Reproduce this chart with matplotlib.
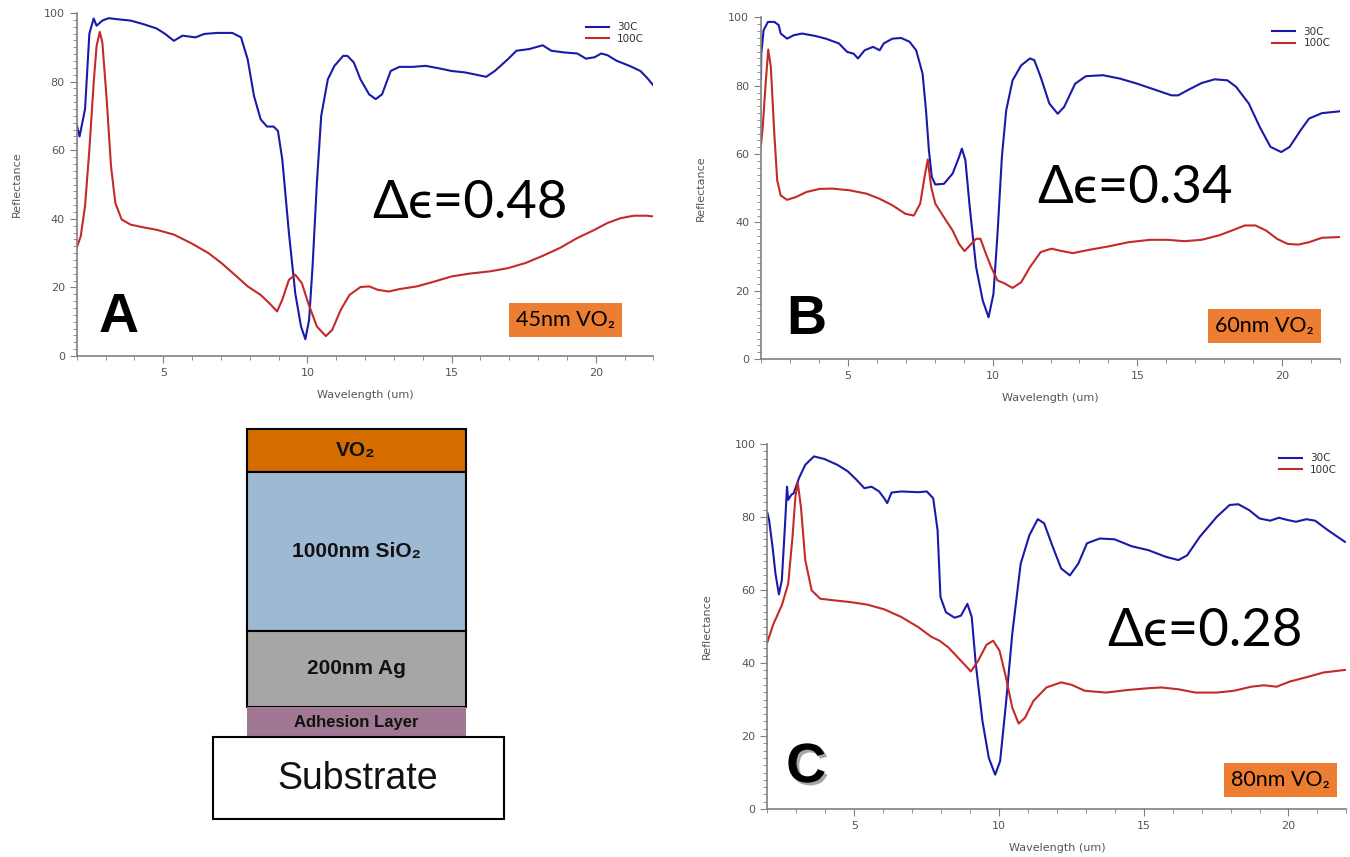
import matplotlib
matplotlib.use('Agg')
import matplotlib.pyplot as plt
import matplotlib.patheffects as pe
from matplotlib.patches import Rectangle
from matplotlib.ticker import MultipleLocator

# --- spectra (wavelength in um, reflectance in %) ---
# A: 45nm VO2
a_x_30 = [2.0, 2.1, 2.29, 2.44, 2.59, 2.69, 2.89, 3.11, 3.4, 3.87, 4.3, 4.77, 5.07, 5.37, 5.67,
          6.12, 6.42, 6.87, 7.4, 7.7, 7.93, 8.15, 8.38, 8.6, 8.83, 8.98, 9.13, 9.36, 9.58, 9.78,
          9.93, 10.06, 10.18, 10.33, 10.48, 10.71, 10.94, 11.24, 11.39, 11.61, 11.84, 12.14, 12.37,
          12.59, 12.89, 13.19, 13.64, 14.1, 14.55, 15.0, 15.45, 15.75, 16.2, 16.5, 16.95, 17.25,
          17.7, 18.16, 18.46, 18.91, 19.36, 19.66, 19.96, 20.19, 20.41, 20.72, 21.17, 21.55, 21.77, 22.0]
a_r_30 = [67.5, 64, 72, 94, 98.4, 96.3, 97.8, 98.5, 98.2, 97.8, 96.8, 95.5, 93.9, 91.9, 93.4,
          92.9, 93.9, 94.2, 94.2, 92.9, 86.5, 75.8, 69, 66.9, 66.9, 65.6, 57.3, 35.9, 18.3, 8.6,
          4.9, 10.5, 26.1, 50.5, 70, 80.7, 84.6, 87.5, 87.5, 85.6, 80.7, 76.3, 74.9,
          76.3, 83.1, 84.3, 84.3, 84.6, 83.9, 83.1, 82.7, 82.2, 81.4, 83.1, 86.5, 89,
          89.5, 90.6, 89, 88.5, 88.2, 86.7, 87.1, 88.2, 87.7, 86.1, 84.6, 83.1, 81.2, 78.9]
a_x_100 = [2.0, 2.14, 2.29, 2.44, 2.59, 2.69, 2.8, 2.89, 3.04, 3.19, 3.34, 3.56, 3.87, 4.32, 4.77,
           5.37, 5.97, 6.57, 7.02, 7.48, 7.93, 8.38, 8.68, 8.95, 9.13, 9.36, 9.58, 9.81, 10.03,
           10.33, 10.64, 10.86, 11.16, 11.46, 11.84, 12.14, 12.44, 12.82, 13.19, 13.8, 14.4, 15.0,
           15.6, 16.35, 16.95, 17.56, 18.16, 18.76, 19.36, 19.96, 20.41, 20.87, 21.32, 21.77, 22.0]
a_r_100 = [31.5, 34.9, 43.7, 60.2, 79.7, 90.4, 94.5, 91.4, 74.9, 55.4, 44.6, 39.8, 38.3, 37.5, 36.8,
           35.4, 32.9, 30, 27.1, 23.7, 20.3, 17.8, 15.4, 13, 16.4, 22.2, 23.7, 21.2, 15.4,
           8.6, 5.8, 7.6, 13.5, 17.8, 20.1, 20.3, 19.3, 18.8, 19.5, 20.3, 21.7, 23.2,
           24, 24.7, 25.6, 27.1, 29.2, 31.5, 34.4, 36.8, 38.8, 40.2, 40.9, 40.9, 40.7]

# B: 60nm VO2
b_x_30 = [2.0, 2.01, 2.09, 2.24, 2.46, 2.61, 2.68, 2.9, 3.13, 3.42, 3.87, 4.24, 4.69, 4.98, 5.2,
          5.35, 5.58, 5.87, 6.1, 6.24, 6.54, 6.84, 7.13, 7.36, 7.58, 7.7, 7.8, 7.9, 8.02, 8.32,
          8.62, 8.84, 8.94, 9.06, 9.21, 9.43, 9.66, 9.86, 10.03, 10.17, 10.32, 10.47, 10.69, 10.99,
          11.29, 11.44, 11.66, 11.96, 12.25, 12.47, 12.85, 13.22, 13.81, 14.4, 15.0, 15.59, 16.18,
          16.41, 16.78, 17.22, 17.67, 18.11, 18.41, 18.85, 19.23, 19.6, 19.97, 20.26, 20.64, 20.93,
          21.38, 21.97]
b_r_30 = [82.1, 89.4, 96.3, 98.7, 98.7, 97.8, 95.3, 93.8, 94.8, 95.3, 94.6, 93.8, 92.4, 89.9, 89.4,
          88, 90.4, 91.4, 90.4, 92.4, 93.8, 94, 92.9, 90.4, 83.6, 72.8, 61.1, 53.3, 51.1, 51.3,
          54.3, 59.1, 61.6, 58.2, 44.5, 26.9, 17.1, 12.2, 19.1, 36.7, 59.1, 72.8, 81.6, 86,
          88, 87.5, 82.6, 74.8, 71.8, 73.8, 80.6, 82.8, 83.1, 82.1, 80.6, 78.9, 77.2,
          77.2, 78.9, 80.8, 81.9, 81.6, 79.7, 74.8, 67.9, 62.1, 60.6, 62.1, 67, 70.4,
          72, 72.5]
b_x_100 = [2.0, 2.06, 2.16, 2.25, 2.34, 2.46, 2.56, 2.68, 2.9, 3.2, 3.57, 4.02, 4.46, 5.06, 5.65,
           6.1, 6.54, 6.99, 7.28, 7.5, 7.65, 7.76, 7.88, 8.02, 8.32, 8.62, 8.84, 9.03, 9.21, 9.43,
           9.58, 9.77, 9.95, 10.17, 10.4, 10.69, 10.99, 11.29, 11.66, 12.03, 12.4, 12.77, 13.36,
           13.96, 14.7, 15.44, 16.03, 16.63, 17.22, 17.82, 18.26, 18.71, 19.08, 19.45, 19.82,
           20.19, 20.56, 20.93, 21.38, 21.97]
b_r_100 = [62.6, 67.9, 80.6, 90.6, 85.5, 66, 52.3, 47.9, 46.6, 47.4, 48.9, 49.8, 49.9, 49.4, 48.4,
           46.9, 45, 42.5, 42, 45.5, 53.3, 58.4, 50.3, 45.5, 41.5, 37.6, 33.7, 31.6, 33.2, 35.2,
           35.2, 30.8, 26.9, 23, 22.2, 20.8, 22.5, 26.9, 31.3, 32.3, 31.6, 31, 32,
           32.9, 34.2, 34.9, 34.9, 34.5, 34.9, 36.2, 37.6, 39.1, 39.1, 37.6, 35.2,
           33.7, 33.5, 34.2, 35.5, 35.7]

# C: 80nm VO2
c_x_30 = [2.0, 2.06, 2.18, 2.28, 2.4, 2.5, 2.6, 2.68, 2.72, 2.83, 2.91, 3.09, 3.31, 3.61, 3.97,
          4.42, 4.78, 5.08, 5.35, 5.6, 5.86, 6.04, 6.14, 6.29, 6.63, 7.22, 7.51, 7.73, 7.88, 7.98,
          8.17, 8.47, 8.69, 8.91, 9.06, 9.2, 9.43, 9.65, 9.87, 10.04, 10.24, 10.46, 10.75, 11.05,
          11.34, 11.56, 11.86, 12.15, 12.45, 12.74, 13.04, 13.48, 13.99, 14.58, 15.17, 15.76, 16.2,
          16.5, 16.94, 17.53, 17.97, 18.27, 18.64, 19.0, 19.37, 19.67, 19.96, 20.26, 20.62, 20.92,
          21.36, 21.95]
c_r_30 = [81.2, 79.2, 71.8, 64.5, 58.8, 62.7, 76.4, 88.3, 84.7, 86.1, 86.5, 90.6, 94.3, 96.6, 95.9,
          94.3, 92.5, 90.2, 87.9, 88.3, 87, 85.1, 83.8, 86.7, 87, 86.8, 87, 85.1, 76.4, 58.1,
          53.9, 52.4, 53, 56.2, 52.6, 39.7, 24.1, 14, 9.4, 13.1, 28.7, 48, 67.2, 75,
          79.4, 78.3, 71.8, 65.9, 64, 67.2, 72.8, 74.1, 73.9, 72, 70.9, 69.1, 68.2,
          69.5, 74.6, 80.1, 83.3, 83.5, 81.9, 79.6, 79, 79.8, 79.2, 78.7, 79.4, 79,
          76.4, 73.2]
c_x_100 = [2.0, 2.21, 2.5, 2.72, 2.87, 2.97, 3.05, 3.16, 3.31, 3.53, 3.83, 4.27, 4.86, 5.45, 6.04,
           6.63, 7.22, 7.66, 7.95, 8.25, 8.69, 9.03, 9.28, 9.57, 9.8, 10.02, 10.24, 10.46, 10.68,
           10.9, 11.19, 11.64, 12.15, 12.52, 12.96, 13.7, 14.44, 15.17, 15.61, 16.2, 16.79, 17.53,
           18.12, 18.71, 19.15, 19.59, 20.04, 20.62, 21.21, 21.95]
c_r_100 = [45.7, 50.7, 55.8, 61.7, 74.6, 85.6, 89.4, 82.8, 68.2, 59.9, 57.6, 57.2, 56.7, 56, 54.7,
           52.6, 49.8, 47.2, 46.1, 44.3, 40.6, 37.7, 40.6, 45, 46.1, 43.4, 36.1, 27.8, 23.4,
           25, 29.6, 33.3, 34.7, 34, 32.4, 31.9, 32.6, 33.1, 33.3, 32.8, 31.9, 31.9,
           32.4, 33.5, 33.9, 33.5, 34.9, 36.1, 37.4, 38.1]

series_names = ['30C', '100C']
deltas = ['Δϵ=0.48', 'Δϵ=0.34', 'Δϵ=0.28']
films = ['45nm VO₂', '60nm VO₂', '80nm VO₂']
letters = ['A', 'B', 'C']

layer_names = ['VO₂', '1000nm SiO₂', '200nm Ag', 'Adhesion Layer']
layer_colors = ['#D46C00', '#9DB9D3', '#A6A6A6', '#A07894']

BLUE = '#1A1AA8'
RED = '#C42A2A'
GREY = '#555555'

fig = plt.figure(figsize=(13.5, 8.57), dpi=100)

# schematic of the stack, drawn in figure pixels
sk = fig.add_axes([0, 0, 1, 1])
sk.set_xlim(0, 1350)
sk.set_ylim(857, 0)
sk.axis('off')
tops = [429, 472, 631, 707, 737]
sizes = [15, 15, 15, 12]
for i, name in enumerate(layer_names):
    ec = 'none' if i == 3 else 'black'
    sk.add_patch(Rectangle((247, tops[i]), 219, tops[i + 1] - tops[i],
                           fc=layer_colors[i], ec=ec, lw=1.5))
    sk.text(356, (tops[i] + tops[i + 1]) / 2, name, ha='center', va='center',
            fontsize=sizes[i], fontweight='bold', color='#111111',
            family=['Liberation Sans', 'DejaVu Sans'])
sk.add_patch(Rectangle((213, 737), 291, 82, fc='white', ec='black', lw=1.5))
sk.text(358, 779, 'Substrate', ha='center', va='center', fontsize=27,
        color='#111111', family=['Liberation Sans', 'DejaVu Sans'])


def spectrum(rect, x30, r30, x100, r100, k, dpos, lpos, fpos):
    ax = fig.add_axes(rect)
    ax.patch.set_alpha(0)
    ax.plot(x30, r30, color=BLUE, lw=1.5, label=series_names[0], solid_joinstyle='round')
    ax.plot(x100, r100, color=RED, lw=1.5, label=series_names[1], solid_joinstyle='round')
    ax.set_xlim(2, 22)
    ax.set_ylim(0, 100)
    ax.xaxis.set_major_locator(MultipleLocator(5))
    ax.xaxis.set_minor_locator(MultipleLocator(1))
    ax.yaxis.set_major_locator(MultipleLocator(20))
    ax.yaxis.set_minor_locator(MultipleLocator(2))
    for s in ['top', 'right']:
        ax.spines[s].set_visible(False)
    for s in ['left', 'bottom']:
        ax.spines[s].set_color('#808080')
        ax.spines[s].set_linewidth(1.2)
    ax.tick_params(which='both', direction='out', color='#808080', labelcolor=GREY,
                   labelsize=8)
    ax.tick_params(which='major', length=5)
    ax.tick_params(which='minor', length=3)
    ax.set_xlabel('Wavelength (um)', fontsize=8, color=GREY, labelpad=9)
    ax.set_ylabel('Reflectance', fontsize=8, color=GREY, labelpad=16)
    leg = ax.legend(loc='upper right', bbox_to_anchor=(1.0, 1.0), frameon=False,
                    fontsize=7.5, handlelength=2.2, labelspacing=0.15)
    for t in leg.get_texts():
        t.set_color('#333333')
    ax.text(dpos[0], dpos[1], deltas[k], transform=ax.transAxes, ha='center', va='center',
            fontsize=38, color='black', family=['Lato', 'Open Sans', 'DejaVu Sans'])
    letter = ax.text(lpos[0], lpos[1], letters[k], transform=ax.transAxes, ha='center',
                     va='center', fontsize=40, fontweight='bold', color='black',
                     family=['Liberation Sans', 'DejaVu Sans'])
    if k == 2:
        letter.set_path_effects([pe.withSimplePatchShadow(offset=(2, -2), alpha=0.35)])
    ax.text(fpos[0], fpos[1], films[k], transform=ax.transAxes, ha='center', va='center',
            fontsize=15.5, color='black', family=['Lato', 'Open Sans', 'DejaVu Sans'],
            bbox=dict(boxstyle='square,pad=0.33', fc='#ED7D31', ec='none'))
    return ax


spectrum([0.0568, 0.5846, 0.4272, 0.4002], a_x_30, a_r_30, a_x_100, a_r_100, 0,
         (0.682, 0.446), (0.072, 0.111), (0.847, 0.105))
spectrum([0.5637, 0.5811, 0.4289, 0.3985], b_x_30, b_r_30, b_x_100, b_r_100, 1,
         (0.646, 0.500), (0.078, 0.114), (0.870, 0.097))
spectrum([0.5684, 0.0560, 0.4289, 0.4259], c_x_30, c_r_30, c_x_100, c_r_100, 2,
         (0.755, 0.485), (0.067, 0.112), (0.886, 0.079))

fig.savefig('out.png', dpi=100)
